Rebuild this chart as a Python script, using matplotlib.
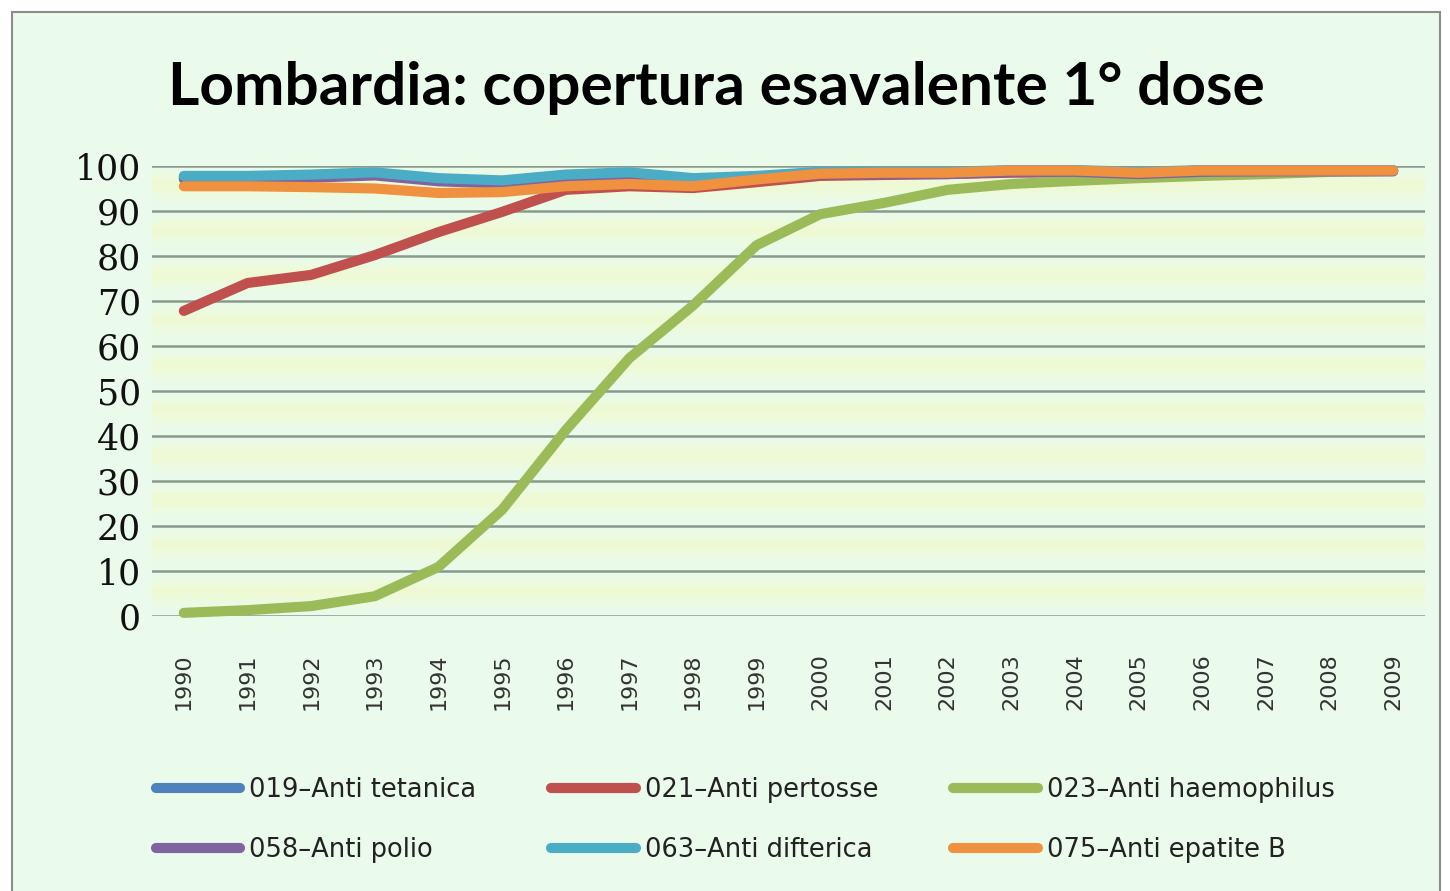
import numpy as np
import matplotlib
matplotlib.use("Agg")
import matplotlib.pyplot as plt
from matplotlib.patches import Rectangle

years = [str(y) for y in range(1990, 2010)]

tetanica = [97.5, 97.5, 97.8, 98.3, 97.0, 96.5, 97.8, 98.3, 97.0, 97.5,
            98.5, 98.5, 98.5, 99.0, 99.0, 98.5, 99.0, 99.0, 99.0, 99.0]
pertosse = [67.8, 74.0, 75.8, 80.2, 85.3, 89.8, 94.7, 95.5, 95.1, 96.4,
            97.8, 98.0, 98.2, 98.5, 98.6, 98.6, 98.8, 98.9, 99.0, 99.0]
haemophilus = [0.7, 1.3, 2.2, 4.4, 10.9, 23.6, 41.3, 57.3, 69.0, 82.4,
               89.3, 91.8, 94.7, 96.0, 96.7, 97.3, 97.8, 98.2, 98.7, 98.9]
polio = [97.1, 97.1, 97.4, 97.9, 96.6, 96.1, 97.4, 97.9, 96.6, 97.1,
         98.2, 98.2, 98.2, 98.7, 98.7, 98.2, 98.7, 98.8, 98.8, 98.8]
difterica = [97.8, 97.8, 98.1, 98.6, 97.3, 96.8, 98.1, 98.6, 97.3, 97.8,
             98.7, 98.7, 98.7, 99.1, 99.1, 98.7, 99.1, 99.1, 99.1, 99.1]
epatite_b = [95.5, 95.5, 95.3, 95.0, 94.0, 94.2, 95.5, 96.0, 95.5, 97.0,
             98.3, 98.5, 98.5, 99.0, 99.0, 98.5, 99.0, 99.0, 99.0, 99.0]

series = [
    ("019–Anti tetanica", tetanica, "#4F81BD"),
    ("021–Anti pertosse", pertosse, "#C0504D"),
    ("023–Anti haemophilus", haemophilus, "#9BBB59"),
    ("058–Anti polio", polio, "#8064A2"),
    ("063–Anti difterica", difterica, "#4BACC6"),
    ("075–Anti epatite B", epatite_b, "#F0913F"),
]

fig = plt.figure(figsize=(14.5, 8.91), dpi=100, facecolor="white")
fig.patches.append(Rectangle((12 / 1450, -0.02), 1428 / 1450, 1 - 12 / 891 + 0.02,
                             transform=fig.transFigure, facecolor="#EBFBEB",
                             edgecolor="#8C8C8C", linewidth=1.5, zorder=-5))

ax = fig.add_axes([152 / 1450, 1 - 616 / 891, 1273 / 1450, 450 / 891])
ax.set_zorder(2)
x = np.arange(len(years))

# banded background (mint near gridlines, pale yellow in between)
prof = np.array([0.0, 0.3, 0.8, 1.0, 0.8, 0.4, 0.1, 0.0])
mint = np.array([0.918, 0.984, 0.922])
yell = np.array([0.937, 0.980, 0.830])
band = mint[None, :] * (1 - prof[:, None]) + yell[None, :] * prof[:, None]
img = np.tile(band, (10, 1))[:, None, :]
ax.imshow(img, extent=(-0.5, 19.5, 0, 100), aspect="auto", origin="upper",
          interpolation="bilinear", zorder=0)

for lab, vals, col in series:
    ax.plot(x, vals, color=col, linewidth=7.3, label=lab,
            solid_capstyle="round", solid_joinstyle="round", clip_on=False, zorder=3)

ax.set_xlim(-0.5, 19.5)
ax.set_ylim(0, 100)
ax.set_yticks(range(0, 101, 10))
ax.set_yticklabels([str(v) for v in range(0, 101, 10)],
                   fontfamily="DejaVu Serif", fontsize=25, color="#111111")
ax.set_xticks(x)
ax.set_xticklabels(years, rotation=90, fontsize=16, color="#333333")
ax.tick_params(axis="both", length=0)
ax.tick_params(axis="x", pad=27)
ax.tick_params(axis="y", pad=8)
ax.yaxis.grid(True, color="#8A9A8A", linewidth=1.8, zorder=1)
ax.set_axisbelow(True)
for s in ax.spines.values():
    s.set_visible(False)

fig.text(716 / 1450, 1 - 88 / 891, "Lombardia: copertura esavalente 1° dose",
         ha="center", va="center", fontsize=43.5, fontweight="bold",
         fontfamily="Lato", color="black")

handles, labels = ax.get_legend_handles_labels()
order = [0, 3, 1, 4, 2, 5]
leg = fig.legend([handles[i] for i in order], [labels[i] for i in order],
                 loc="center", bbox_to_anchor=(745 / 1450, 1 - 820 / 891),
                 ncol=3, frameon=False, fontsize=18.5, handlelength=3.3,
                 handletextpad=0.35, columnspacing=2.9, labelspacing=1.35)
for t in leg.get_texts():
    t.set_color("#222222")

fig.savefig("out.png", dpi=100, facecolor=fig.get_facecolor())
